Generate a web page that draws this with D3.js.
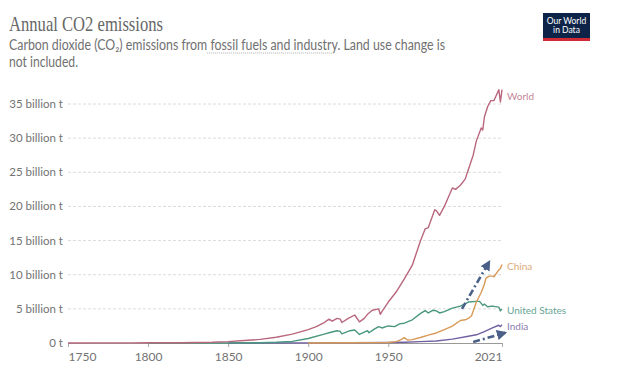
<!DOCTYPE html>
<html>
<head>
<meta charset="utf-8">
<script src="https://cdn.jsdelivr.net/npm/d3@7"></script>
<style>
  body { margin: 0; background: #fff; }
  svg { font-family: Lato, "Open Sans", sans-serif; }
</style>
</head>
<body>
<svg id="chart" width="620" height="372"></svg>
<script>
// values in billion tonnes
const world = [
  [1750, 0.01], [1770, 0.012], [1790, 0.018], [1800, 0.028], [1820, 0.043],
  [1830, 0.068], [1840, 0.1], [1850, 0.2], [1860, 0.36], [1870, 0.53],
  [1880, 0.85], [1890, 1.3], [1900, 1.95], [1905, 2.4], [1910, 3.0],
  [1913, 3.5], [1915, 3.2], [1918, 3.6], [1920, 3.5], [1921, 3.0],
  [1925, 3.6], [1929, 4.1], [1932, 3.1], [1935, 3.6], [1937, 4.2],
  [1940, 4.8], [1944, 5.0], [1945, 4.2], [1946, 4.6], [1950, 6.0],
  [1955, 7.5], [1960, 9.4], [1965, 11.4], [1970, 14.9], [1973, 16.7],
  [1975, 16.9], [1979, 19.5], [1980, 19.4], [1982, 18.7], [1985, 20.0],
  [1990, 22.7], [1992, 22.5], [1995, 23.1], [1998, 24.0], [2000, 25.4],
  [2003, 27.5], [2005, 29.6], [2008, 31.5], [2009, 31.2], [2010, 33.1],
  [2012, 34.6], [2014, 35.5], [2016, 35.5], [2019, 37.1], [2020, 35.3],
  [2021, 37.1]
];
const china = [
  [1900, 0.0], [1950, 0.08], [1955, 0.2], [1958, 0.5], [1960, 0.78],
  [1962, 0.44], [1965, 0.5], [1970, 0.8], [1975, 1.15], [1980, 1.47],
  [1985, 1.97], [1990, 2.48], [1995, 3.3], [1998, 3.4], [2000, 3.6],
  [2002, 4.0], [2005, 6.0], [2008, 7.4], [2010, 8.6], [2011, 9.5],
  [2013, 9.8], [2015, 9.8], [2016, 9.7], [2019, 10.7], [2020, 10.9],
  [2021, 11.5]
];
const usa = [
  [1800, 0.0], [1850, 0.005], [1870, 0.04], [1880, 0.1], [1890, 0.23],
  [1900, 0.66], [1910, 1.3], [1913, 1.5], [1918, 1.8], [1920, 1.7],
  [1921, 1.35], [1926, 1.8], [1929, 1.9], [1932, 1.25], [1937, 1.8],
  [1938, 1.5], [1941, 2.0], [1944, 2.4], [1946, 2.2], [1950, 2.5],
  [1954, 2.4], [1957, 2.8], [1960, 2.9], [1965, 3.4], [1970, 4.3],
  [1973, 4.75], [1975, 4.4], [1978, 4.8], [1980, 4.7], [1982, 4.4],
  [1985, 4.6], [1990, 5.1], [1995, 5.4], [2000, 6.0], [2005, 6.1],
  [2007, 6.1], [2009, 5.5], [2010, 5.7], [2012, 5.3], [2015, 5.4],
  [2019, 5.26], [2020, 4.7], [2021, 5.0]
];
const india = [
  [1850, 0.0], [1900, 0.015], [1950, 0.07], [1960, 0.12], [1970, 0.2],
  [1980, 0.29], [1990, 0.56], [2000, 0.98], [2005, 1.2], [2010, 1.68],
  [2015, 2.2], [2019, 2.6], [2020, 2.4], [2021, 2.7]
];
const seriesNames = ["World", "China", "United States", "India"];
const yTicks = [0, 5, 10, 15, 20, 25, 30, 35];
const xTicks = [1750, 1800, 1850, 1900, 1950, 2021];
// the two dash-dot arrows drawn on top of the chart
const arrows = [
  [[1996, 5.0], [2013, 11.9]],
  [[2003, 0.15], [2023, 1.5]]
];

const colors = {
  World: { line: "#b8677d", text: "#c48898" },
  China: { line: "#d89a58", text: "#dcaa7c" },
  "United States": { line: "#4a977f", text: "#67a594" },
  India: { line: "#7160a2", text: "#8a7cb0" }
};

const svg = d3.select("#chart");
const x = d3.scaleLinear().domain([1750, 2021]).range([68, 502]);
const y = d3.scaleLinear().domain([0, 35]).range([343, 104]);

// header
const header = svg.append("g");
header.append("text")
  .attr("x", 9).attr("y", 31)
  .attr("font-family", "'Liberation Serif', 'DejaVu Serif', serif")
  .attr("font-size", 21)
  .attr("fill", "#666")
  .attr("textLength", 154).attr("lengthAdjust", "spacingAndGlyphs")
  .text("Annual CO2 emissions");

const subA = "Carbon dioxide (CO₂) emissions from ";
const subB = "fossil fuels and industry";
const subC = ". Land use change is";
header.append("text")
  .attr("x", 9).attr("y", 50)
  .attr("font-size", 14.5)
  .attr("fill", "#707070")
  .attr("textLength", 436).attr("lengthAdjust", "spacingAndGlyphs")
  .text(subA + subB + subC);
header.append("text")
  .attr("x", 9).attr("y", 67)
  .attr("font-size", 14.5)
  .attr("fill", "#707070")
  .attr("textLength", 69).attr("lengthAdjust", "spacingAndGlyphs")
  .text("not included.");

// dotted underline under "fossil fuels and industry"
const probe = svg.append("text").attr("font-size", 14.5).text(subA + subB + subC);
const full = probe.node().getComputedTextLength();
probe.text(subA);
const pre = probe.node().getComputedTextLength();
probe.text(subB);
const mid = probe.node().getComputedTextLength();
probe.remove();
const k = 436 / full;
header.append("line")
  .attr("x1", 9 + pre * k).attr("x2", 9 + (pre + mid) * k)
  .attr("y1", 53).attr("y2", 53)
  .attr("stroke", "#aaa").attr("stroke-width", 1)
  .attr("stroke-dasharray", "1,1");

// logo
const logo = svg.append("g");
logo.append("rect").attr("x", 543).attr("y", 13).attr("width", 47).attr("height", 28).attr("fill", "#0d2448");
logo.append("rect").attr("x", 543).attr("y", 38).attr("width", 47).attr("height", 3).attr("fill", "#ce2b37");
logo.append("text").attr("x", 566.5).attr("y", 23.5).attr("text-anchor", "middle")
  .attr("font-size", 8.5).attr("fill", "#fff").text("Our World");
logo.append("text").attr("x", 566.5).attr("y", 33).attr("text-anchor", "middle")
  .attr("font-size", 8.5).attr("fill", "#fff").text("in Data");

// gridlines and y labels
const grid = svg.append("g");
grid.selectAll("line")
  .data(yTicks.filter((d) => d > 0))
  .enter()
  .append("line")
  .attr("x1", x(1750)).attr("x2", x(2021))
  .attr("y1", (d) => y(d)).attr("y2", (d) => y(d))
  .attr("stroke", "#dcdcdc")
  .attr("stroke-dasharray", "3,2");

grid.selectAll("text")
  .data(yTicks)
  .enter()
  .append("text")
  .attr("x", 63)
  .attr("y", (d) => y(d) + 4)
  .attr("text-anchor", "end")
  .attr("font-size", 11.5)
  .attr("fill", "#737373")
  .text((d) => (d === 0 ? "0 t" : `${d} billion t`));

// x axis
const xAxis = svg.append("g")
  .attr("transform", `translate(0,${y(0)})`)
  .call(d3.axisBottom(x).tickValues(xTicks).tickSize(4).tickFormat(d3.format("d")));
xAxis.select(".domain").attr("stroke", "#999");
xAxis.selectAll(".tick line").attr("stroke", "#aaa");
xAxis.selectAll(".tick text")
  .attr("font-family", "Lato, sans-serif")
  .attr("font-size", 12)
  .attr("fill", "#737373")
  .attr("dy", "0.95em")
  .attr("text-anchor", (d) => (d === 1750 ? "start" : d === 2021 ? "end" : "middle"));

// lines
const line = d3
  .line()
  .x((d) => x(d[0]))
  .y((d) => y(d[1]));

const allSeries = [world, china, usa, india];
const order = [3, 2, 1, 0]; // draw world on top
order.forEach((i) => {
  svg.append("path")
    .datum(allSeries[i])
    .attr("d", line)
    .attr("fill", "none")
    .attr("stroke", colors[seriesNames[i]].line)
    .attr("stroke-width", 1.4)
    .attr("stroke-linejoin", "round");
});

// end labels
const labelY = { World: 96, China: 266, "United States": 310, India: 326 };
seriesNames.forEach((name) => {
  svg.append("text")
    .attr("x", 507)
    .attr("y", labelY[name] + 3.5)
    .attr("font-size", 10)
    .attr("fill", colors[name].text)
    .text(name);
});

// arrows
svg.append("defs").append("marker")
  .attr("id", "head")
  .attr("viewBox", "0 0 10 10")
  .attr("refX", 8).attr("refY", 5)
  .attr("markerWidth", 4).attr("markerHeight", 4)
  .attr("orient", "auto")
  .append("path")
  .attr("d", "M0,0 L10,5 L0,10 Z")
  .attr("fill", "#4b6088");

svg.selectAll(".arrow")
  .data(arrows)
  .enter()
  .append("path")
  .attr("class", "arrow")
  .attr("d", (d) => line(d))
  .attr("fill", "none")
  .attr("stroke", "#4b6088")
  .attr("stroke-width", 2.6)
  .attr("stroke-dasharray", "7,3,2,3")
  .attr("marker-end", "url(#head)");
</script>
</body>
</html>
